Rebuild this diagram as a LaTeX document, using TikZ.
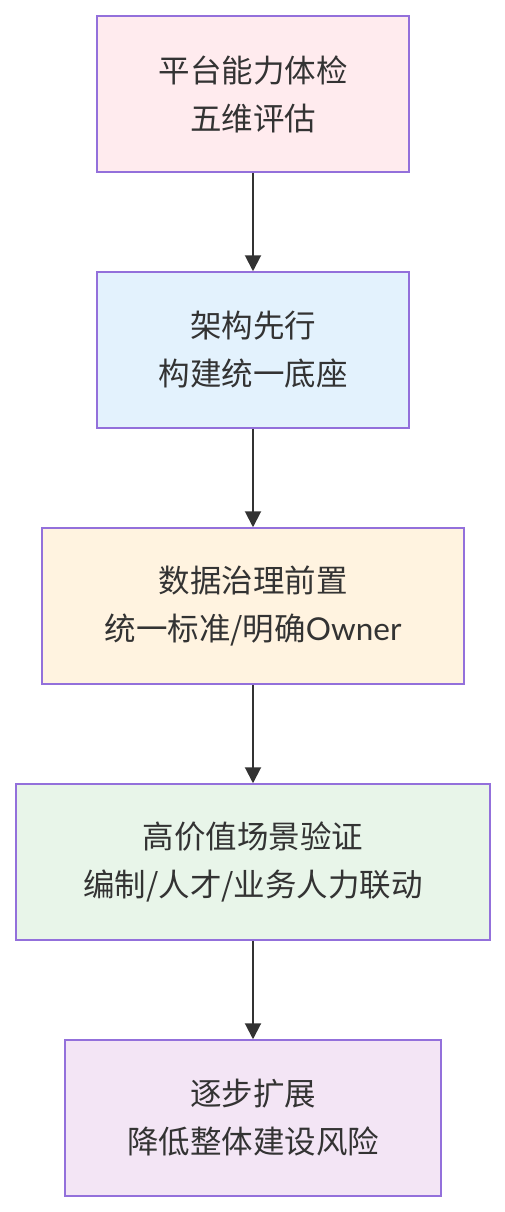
\documentclass[tikz,border=0pt]{standalone}
\usepackage{fontspec}
\setmainfont{Noto Sans CJK SC}
\newfontfamily\latofont{Lato}
\usetikzlibrary{arrows.meta}
\definecolor{bordc}{HTML}{9370DB}
\definecolor{txtc}{HTML}{333333}
\definecolor{fa}{HTML}{FFEBEE}
\definecolor{fb}{HTML}{E3F2FD}
\definecolor{fc}{HTML}{FFF3E0}
\definecolor{fd}{HTML}{E8F5E9}
\definecolor{fe}{HTML}{F3E5F5}
\tikzset{
  box/.style={draw=bordc, line width=1.5pt, minimum height=156pt, inner sep=0pt,
    align=center, text=txtc, font=\fontsize{31.5}{48}\selectfont},
  link/.style={draw=txtc, line width=2pt, -{Triangle[length=16pt,width=16pt]}}
}
\begin{document}
\begin{tikzpicture}[x=1pt,y=-1pt]
\useasboundingbox (0,0) rectangle (505,1212);
\node[box, fill=fa, minimum width=312pt] (a) at (253,94) {平台能力体检\\五维评估};
\node[box, fill=fb, minimum width=312pt] (b) at (253,350) {架构先行\\构建统一底座};
\node[box, fill=fc, minimum width=422pt] (c) at (253,606) {数据治理前置\\统一标准/明确{\latofont Owner}};
\node[box, fill=fd, minimum width=474pt] (d) at (253,862) {高价值场景验证\\编制/人才/业务人力联动};
\node[box, fill=fe, minimum width=376pt] (e) at (253,1118) {逐步扩展\\降低整体建设风险};
\draw[link] (a) -- (b);
\draw[link] (b) -- (c);
\draw[link] (c) -- (d);
\draw[link] (d) -- (e);
\end{tikzpicture}
\end{document}
